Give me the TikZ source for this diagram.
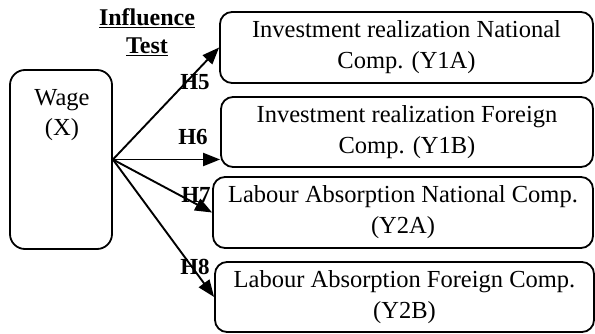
\documentclass[tikz,border=0pt]{standalone}
\usepackage{fontspec}
\setmainfont{Liberation Serif}
\usetikzlibrary{arrows.meta}
\begin{document}
\begin{tikzpicture}[x=1pt,y=-1pt,
  box/.style={draw,line width=1.8pt,rounded corners=12pt,align=center,inner sep=0pt,
    font=\fontsize{24.5}{31}\selectfont},
  arr/.style={line width=1.9pt,-{Triangle[length=17pt,width=13pt]}},
  hlab/.style={font=\fontsize{23}{24}\selectfont\bfseries,inner sep=0pt}]
\useasboundingbox (0,0) rectangle (595,334);
\node[box,minimum width=102pt,minimum height=179pt,rounded corners=15pt] (wage) at (61,159.5) {};
\node[font=\fontsize{24.5}{30}\selectfont,align=center] (wt) at (62,115) {Wage\\(X)};
\node[box,minimum width=373pt,minimum height=71pt] (y1a) at (406.5,47.5) {Investment realization National\\Comp. (Y1A)};
\node[box,minimum width=372pt,minimum height=70pt] (y1b) at (407,132) {Investment realization Foreign\\Comp. (Y1B)};
\node[box,minimum width=380pt,minimum height=71pt] (y2a) at (403,212.5) {Labour Absorption National Comp.\\(Y2A)};
\node[box,minimum width=379pt,minimum height=70pt] (y2b) at (404.5,297) {Labour Absorption Foreign Comp.\\(Y2B)};
\node[font=\fontsize{24}{28}\selectfont\bfseries,align=center] (title) at (147,32) {\underline{Influence}\\\underline{Test}};
\draw[arr] (wage.east) -- (y1a.west);
\draw[arr] (wage.east) -- (y1b.west |- wage.east);
\draw[arr] (wage.east) -- (y2a.west);
\draw[arr] (wage.east) -- (y2b.west);
\node[hlab] (h5) at (195,82) {H5};
\node[hlab] (h6) at (193,137) {H6};
\node[hlab] (h7) at (196,195) {H7};
\node[hlab] (h8) at (195,267) {H8};
\end{tikzpicture}
\end{document}
